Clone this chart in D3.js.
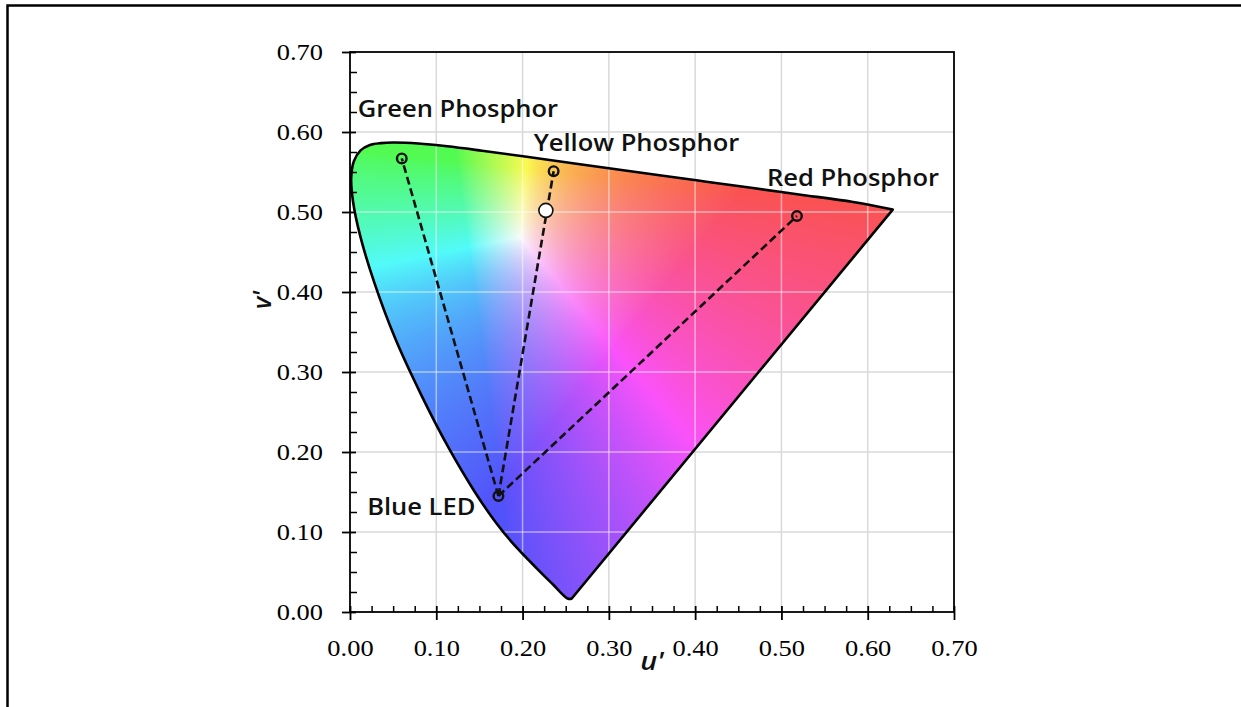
<!DOCTYPE html>
<html>
<head>
<meta charset="utf-8">
<script src="https://cdn.jsdelivr.net/npm/d3@7"></script>
<style>
  html, body { margin: 0; padding: 0; background: #fff; overflow: hidden; }
  svg { display: block; }
</style>
</head>
<body>
<div id="chart"></div>
<script>
// spectral locus in u', v' (380 nm round to the red end)
var locusU = [0.2568, 0.2522, 0.2347, 0.2161, 0.1877, 0.1690, 0.1441, 0.1147, 0.0828, 0.0521,
              0.0282, 0.0119, 0.0035, 0.0014, 0.0046, 0.0123, 0.0231, 0.0360, 0.0501, 0.0792,
              0.1127, 0.1531, 0.2026, 0.2623, 0.3315, 0.4035, 0.4692, 0.5203, 0.5830, 0.6290];
var locusV = [0.0166, 0.0169, 0.0350, 0.0549, 0.0871, 0.1119, 0.1510, 0.2044, 0.2708, 0.3427,
              0.4117, 0.4698, 0.5131, 0.5432, 0.5638, 0.5770, 0.5837, 0.5861, 0.5868, 0.5856,
              0.5821, 0.5766, 0.5694, 0.5604, 0.5501, 0.5393, 0.5296, 0.5219, 0.5125, 0.5030];

// emitters
var sourceNames = ["Blue LED", "Green Phosphor", "Yellow Phosphor", "Red Phosphor"];
var sourceU = [0.172, 0.060, 0.236, 0.518];
var sourceV = [0.145, 0.567, 0.551, 0.495];

// mixed white point on the blue -> yellow line
var whiteU = [0.227];
var whiteV = [0.502];

var majorTicks = [0.00, 0.10, 0.20, 0.30, 0.40, 0.50, 0.60, 0.70];
var axisNames = ["u'", "v'"];

var svgWidth = 1241;
var svgHeight = 707;
var margin = { top: 52, left: 350 };
var chartWidth = 604;
var chartHeight = 560;
var textStretch = 1.15;

var svg = d3.select("#chart")
    .append("svg")
    .attr("width", svgWidth)
    .attr("height", svgHeight);

// outer border (left and top only)
svg.append("path")
    .attr("d", "M7.5," + svgHeight + "V5.5H" + svgWidth)
    .attr("fill", "none")
    .attr("stroke", "#000")
    .attr("stroke-width", 2.5);

var x = d3.scaleLinear().domain([0, 0.7]).range([margin.left, margin.left + chartWidth]);
var y = d3.scaleLinear().domain([0, 0.7]).range([margin.top + chartHeight, margin.top]);

var minorTicks = d3.range(0, 0.7001, 0.025).filter(function(t) {
    return Math.abs(t * 10 - Math.round(t * 10)) > 0.01;
});

// gridlines
var grid = svg.append("g").attr("stroke", "#d9d9d9").attr("stroke-width", 1.5);
majorTicks.slice(1, -1).forEach(function(t) {
    grid.append("line").attr("x1", x(t)).attr("x2", x(t)).attr("y1", y(0)).attr("y2", y(0.7));
    grid.append("line").attr("x1", x(0)).attr("x2", x(0.7)).attr("y1", y(t)).attr("y2", y(t));
});

// locus outline: smooth spectral part, straight purple line back
var locusPts = locusU.map(function(u, i) { return [u, locusV[i]]; });
var locusLine = d3.line()
    .x(function(d) { return x(d[0]); })
    .y(function(d) { return y(d[1]); })
    .curve(d3.curveCatmullRom);
var locusPath = locusLine(locusPts) + "Z";

svg.append("clipPath").attr("id", "locus")
    .append("path").attr("d", locusPath);

// colour fill, one pixel at a time
function uvToRgb(u, v) {
    v = Math.max(v, 0.002);
    var d = 6 * u - 16 * v + 12;
    var cx = 9 * u / d, cy = 4 * v / d;
    var X = cx / cy, Z = (1 - cx - cy) / cy;
    var r = 3.2406 * X - 1.5372 - 0.4986 * Z;
    var g = -0.9689 * X + 1.8758 + 0.0415 * Z;
    var b = 0.0557 * X - 0.2040 + 1.0570 * Z;
    r = Math.max(r, 0); g = Math.max(g, 0); b = Math.max(b, 0);
    var m = Math.max(r, g, b, 1e-6);
    return [r, g, b].map(function(c) {
        c = Math.pow(c / m, 1 / 1.3);
        return Math.round(255 * (0.32 + 0.66 * c));
    });
}

var canvas = document.createElement("canvas");
canvas.width = chartWidth;
canvas.height = chartHeight;
var ctx = canvas.getContext("2d");
var img = ctx.createImageData(chartWidth, chartHeight);
for (var j = 0; j < chartHeight; j++) {
    for (var i = 0; i < chartWidth; i++) {
        var c = uvToRgb(x.invert(margin.left + i + 0.5), y.invert(margin.top + j + 0.5));
        var k = (j * chartWidth + i) * 4;
        img.data[k] = c[0];
        img.data[k + 1] = c[1];
        img.data[k + 2] = c[2];
        img.data[k + 3] = 255;
    }
}
ctx.putImageData(img, 0, 0);

svg.append("image")
    .attr("href", canvas.toDataURL())
    .attr("x", margin.left)
    .attr("y", margin.top)
    .attr("width", chartWidth)
    .attr("height", chartHeight)
    .attr("preserveAspectRatio", "none")
    .attr("clip-path", "url(#locus)");

// light gridlines over the colours
var grid2 = svg.append("g")
    .attr("clip-path", "url(#locus)")
    .attr("stroke", "#fff")
    .attr("stroke-opacity", 0.5)
    .attr("stroke-width", 1.5);
majorTicks.slice(1, -1).forEach(function(t) {
    grid2.append("line").attr("x1", x(t)).attr("x2", x(t)).attr("y1", y(0)).attr("y2", y(0.7));
    grid2.append("line").attr("x1", x(0)).attr("x2", x(0.7)).attr("y1", y(t)).attr("y2", y(t));
});

svg.append("path")
    .attr("d", locusPath)
    .attr("fill", "none")
    .attr("stroke", "#000")
    .attr("stroke-width", 2.6)
    .attr("stroke-linejoin", "round");

// plot frame
svg.append("rect")
    .attr("x", margin.left)
    .attr("y", margin.top)
    .attr("width", chartWidth)
    .attr("height", chartHeight)
    .attr("fill", "none")
    .attr("stroke", "#000")
    .attr("stroke-width", 1.8);

// axes
var fmt = d3.format(".2f");
var yAxis = d3.axisLeft(y).tickValues(majorTicks).tickFormat(fmt).tickSize(8).tickPadding(19);
var gy = svg.append("g").attr("transform", "translate(" + margin.left + ",0)").call(yAxis);
gy.select(".domain").remove();
gy.selectAll(".tick line").attr("x1", 6).attr("stroke-width", 1.8);
gy.selectAll(".tick text")
    .attr("x", -27 / textStretch)
    .attr("transform", "scale(" + textStretch + ",1)");

var yMinor = d3.axisLeft(y).tickValues(minorTicks).tickFormat("").tickSize(-7);
var gym = svg.append("g").attr("transform", "translate(" + margin.left + ",0)").call(yMinor);
gym.select(".domain").remove();
gym.selectAll(".tick line").attr("stroke-width", 1.5);

var xAxis = d3.axisBottom(x).tickValues(majorTicks).tickFormat(fmt).tickSize(8).tickPadding(20);
var gx = svg.append("g").attr("transform", "translate(0," + y(0) + ")").call(xAxis);
gx.select(".domain").remove();
gx.selectAll(".tick line").attr("y1", -6).attr("stroke-width", 1.8);
gx.selectAll(".tick text").attr("transform", "scale(" + textStretch + ",1)");

var xMinor = d3.axisBottom(x).tickValues(minorTicks).tickFormat("").tickSize(-6);
var gxm = svg.append("g").attr("transform", "translate(0," + y(0) + ")").call(xMinor);
gxm.select(".domain").remove();
gxm.selectAll(".tick line").attr("stroke-width", 1.5);

[gy, gx].forEach(function(g) {
    g.attr("font-family", "'Liberation Serif', 'Times New Roman', serif")
     .attr("font-size", 23);
    g.selectAll(".tick text").attr("fill", "#000");
});

// dashed lines from the blue LED to each phosphor
var blue = [x(sourceU[0]), y(sourceV[0])];
sourceU.slice(1).forEach(function(u, i) {
    svg.append("line")
        .attr("x1", blue[0]).attr("y1", blue[1])
        .attr("x2", x(u)).attr("y2", y(sourceV[i + 1]))
        .attr("stroke", "#111")
        .attr("stroke-width", 2.6)
        .attr("stroke-dasharray", "8,4");
});

svg.selectAll("circle.src")
    .data(sourceU)
    .enter()
    .append("circle")
    .attr("class", "src")
    .attr("cx", function(d) { return x(d); })
    .attr("cy", function(d, i) { return y(sourceV[i]); })
    .attr("r", 4.8)
    .attr("fill", "none")
    .attr("stroke", "#111")
    .attr("stroke-width", 2.4);

svg.selectAll("circle.white")
    .data(whiteU)
    .enter()
    .append("circle")
    .attr("class", "white")
    .attr("cx", function(d) { return x(d); })
    .attr("cy", function(d, i) { return y(whiteV[i]); })
    .attr("r", 7)
    .attr("fill", "#fff")
    .attr("stroke", "#111")
    .attr("stroke-width", 1.6);

// point labels, placed relative to their points
var labelOffsets = [[-23, 19, "end"], [-44, -41, "start"], [-20, -20, "start"], [-30, -30, "start"]];
sourceNames.forEach(function(name, i) {
    var off = labelOffsets[i];
    svg.append("text")
        .attr("transform", "translate(" + (x(sourceU[i]) + off[0]) + "," + (y(sourceV[i]) + off[1]) + ") scale(" + (textStretch - 0.04) + ",1)")
        .attr("text-anchor", off[2])
        .attr("font-family", "'Open Sans', sans-serif")
        .attr("font-weight", 600)
        .attr("font-size", 23)
        .attr("fill", "#111")
        .text(name);
});

// axis titles
svg.append("text")
    .attr("transform", "translate(652,670) scale(" + textStretch + ",1)")
    .attr("text-anchor", "middle")
    .attr("font-family", "'Open Sans', sans-serif")
    .attr("font-style", "italic")
    .attr("font-weight", 600)
    .attr("font-size", 25)
    .attr("fill", "#111")
    .text(axisNames[0]);

svg.append("text")
    .attr("transform", "translate(271,300) rotate(-90)")
    .attr("text-anchor", "middle")
    .attr("font-family", "'Open Sans', sans-serif")
    .attr("font-style", "italic")
    .attr("font-weight", 600)
    .attr("font-size", 25)
    .attr("fill", "#111")
    .text(axisNames[1]);
</script>
</body>
</html>
